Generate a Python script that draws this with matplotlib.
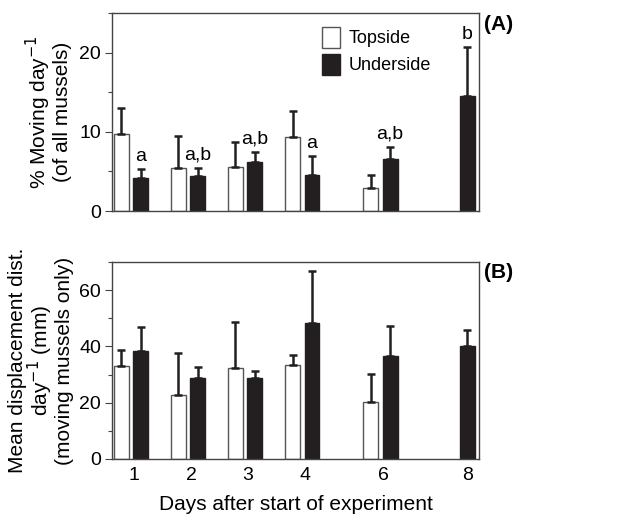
import matplotlib
matplotlib.use("Agg")
import matplotlib.pyplot as plt
from matplotlib.patches import Patch
from matplotlib.ticker import MultipleLocator

plt.rcParams['font.family'] = ['Liberation Sans Narrow', 'Liberation Sans', 'DejaVu Sans']

# ── Data ──────────────────────────────────────────────────────────────────────
DAYS = ["1", "2", "3", "4", "6", "8"]

# (A) % moving per day
MOVE_TOP     = [9.7, 5.5, 5.6, 9.35, 2.9, None]
MOVE_TOP_ERR = [3.3, 4.0, 3.1, 3.25, 1.6, None]
MOVE_UND     = [4.15, 4.4, 6.2, 4.5, 6.6, 14.5]
MOVE_UND_ERR = [1.15, 1.1, 1.3, 2.4, 1.5, 6.2]
MOVE_LETTERS = ["a", "a,b", "a,b", "a", "a,b", "b"]

# (B) mean displacement distance per day (mm)
DIST_TOP     = [33.1, 22.8, 32.2, 33.4, 20.1, None]
DIST_TOP_ERR = [5.6, 14.9, 16.6, 3.5, 10.2, None]
DIST_UND     = [38.3, 28.7, 28.7, 48.2, 36.5, 40.0]
DIST_UND_ERR = [8.6, 4.1, 2.6, 18.6, 10.7, 5.9]

# ── Layout ────────────────────────────────────────────────────────────────────
GROUP_POS = [0, 1, 2, 3, 4.37, 5.72]
OFFSET = 0.17
WIDTH = 0.26
EDGE = "#555555"
DARK = "#231f20"
FS = 14
LFS = 15

fig = plt.figure(figsize=(6.44, 5.15), dpi=100)
axA = fig.add_axes([0.174, 0.590, 0.570, 0.385])
axB = fig.add_axes([0.174, 0.109, 0.570, 0.382])


def draw(ax, top, top_err, und, und_err):
    for x, v, e in zip(GROUP_POS, top, top_err):
        if v is None:
            continue
        ax.bar(x - OFFSET, v, WIDTH, color="white", edgecolor=EDGE, linewidth=1.0, zorder=2)
        ax.errorbar(x - OFFSET, v, yerr=[[0], [e]], fmt="none", ecolor=DARK,
                    elinewidth=1.8, capsize=3, capthick=1.8, zorder=3)
    for x, v, e in zip(GROUP_POS, und, und_err):
        ax.bar(x + OFFSET, v, WIDTH, color=DARK, edgecolor=DARK, linewidth=1.0, zorder=2)
        ax.errorbar(x + OFFSET, v, yerr=[[0], [e]], fmt="none", ecolor=DARK,
                    elinewidth=1.8, capsize=3, capthick=1.8, zorder=3)
    ax.set_xlim(-0.333, 6.1)
    for s in ax.spines.values():
        s.set_color("#444444")
        s.set_linewidth(1.0)
    ax.tick_params(axis="y", which="both", direction="out", length=5, width=0.8,
                   color="#444444", labelsize=FS, pad=3)
    ax.tick_params(axis="y", which="minor", length=3)


draw(axA, MOVE_TOP, MOVE_TOP_ERR, MOVE_UND, MOVE_UND_ERR)
axA.set_ylim(0, 25)
axA.yaxis.set_major_locator(MultipleLocator(10))
axA.yaxis.set_minor_locator(MultipleLocator(5))
axA.set_xticks([])
for x, v, e, lab in zip(GROUP_POS, MOVE_UND, MOVE_UND_ERR, MOVE_LETTERS):
    axA.annotate(lab, (x + OFFSET, v + e), xytext=(0, 3), textcoords="offset points",
                 ha="center", va="bottom", fontsize=FS)
axA.set_ylabel("% Moving day$^{-1}$\n(of all mussels)", fontsize=LFS, labelpad=5,
               linespacing=1.0)

handles = [Patch(facecolor="white", edgecolor=EDGE, linewidth=1.0, label="Topside"),
           Patch(facecolor=DARK, edgecolor=DARK, label="Underside")]
axA.legend(handles=handles, loc="upper left", bbox_to_anchor=(0.572, 0.93),
           frameon=False, fontsize=13, handlelength=1.0, handleheight=1.45,
           labelspacing=0.3, handletextpad=0.45, borderpad=0, borderaxespad=0)

draw(axB, DIST_TOP, DIST_TOP_ERR, DIST_UND, DIST_UND_ERR)
axB.set_ylim(0, 70)
axB.yaxis.set_major_locator(MultipleLocator(20))
axB.yaxis.set_minor_locator(MultipleLocator(10))
tick_pos = [p + 0.05 for p in GROUP_POS[:-1]] + [GROUP_POS[-1] + OFFSET]
axB.set_xticks(tick_pos)
axB.set_xticklabels(DAYS)
axB.tick_params(axis="x", length=0, labelsize=FS, pad=6)
axB.set_ylabel("Mean displacement dist.\nday$^{-1}$ (mm)\n(moving mussels only)",
               fontsize=LFS, labelpad=4, linespacing=0.95)
fig.text(0.459, 0.020, "Days after start of experiment", fontsize=LFS,
         ha="center", va="center")

fig.text(0.752, 0.952, "(A)", fontsize=LFS, fontweight="bold", ha="left", va="center",
         family=["Liberation Sans", "DejaVu Sans"])
fig.text(0.752, 0.470, "(B)", fontsize=LFS, fontweight="bold", ha="left", va="center",
         family=["Liberation Sans", "DejaVu Sans"])

fig.savefig("out.png", dpi=100)
